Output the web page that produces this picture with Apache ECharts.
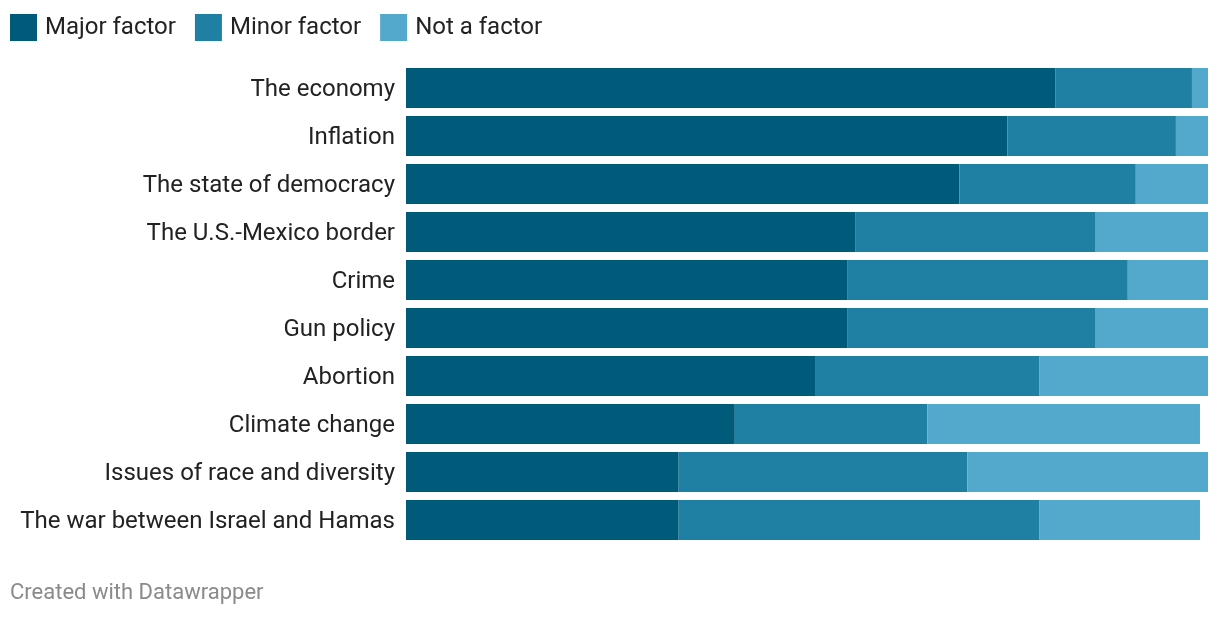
<!DOCTYPE html>
<html><head><meta charset="utf-8">
<script src="https://cdn.jsdelivr.net/npm/echarts@6/dist/echarts.min.js"></script>
<style>html,body{margin:0;padding:0;background:#fff}#c{width:1220px;height:618px}</style>
</head><body><div id="c"></div>
<script>
const categories = ["The economy","Inflation","The state of democracy","The U.S.-Mexico border","Crime","Gun policy","Abortion","Climate change","Issues of race and diversity","The war between Israel and Hamas"];
const majorFactor = [81,75,69,56,55,55,51,41,34,34];
const minorFactor = [17,21,22,30,35,31,28,24,36,45];
const notAFactor = [2,4,9,14,10,14,21,34,30,20];
const seriesNames = ["Major factor","Minor factor","Not a factor"];
const colors = ["#005a7a","#1f80a3","#52a9cc"];
const chart = echarts.init(document.getElementById('c'));
const mk = (name, data, color) => ({
  name, type:'bar', stack:'total', data, barWidth:40,
  itemStyle:{color}, emphasis:{disabled:true}
});
chart.setOption({
  animation:false,
  textStyle:{fontFamily:'Roboto'},
  color:colors,
  legend:{
    left:10, top:14, padding:0, itemWidth:27, itemHeight:27, itemGap:19,
    icon:'rect',
    textStyle:{fontSize:24, color:'#222', fontFamily:'Roboto', padding:[3,0,0,3]},
    data:seriesNames
  },
  grid:{left:406, right:12, top:64, height:480, containLabel:false},
  xAxis:{type:'value', min:0, max:100, show:false},
  yAxis:{type:'category', data:categories, inverse:true,
    axisLine:{show:false}, axisTick:{show:false},
    axisLabel:{fontSize:24, color:'#222', margin:11, fontFamily:'Roboto',
      formatter:'{a|{value}}',
      rich:{a:{fontSize:24, color:'#222', fontFamily:'Roboto', lineHeight:28, padding:[4,0,0,0]}}}},
  graphic:[{type:'text', left:10, top:582, style:{text:'Created with Datawrapper', fontSize:22, fill:'#8a8a8a', fontFamily:'Roboto'}}],
  series:[mk(seriesNames[0], majorFactor, colors[0]), mk(seriesNames[1], minorFactor, colors[1]), mk(seriesNames[2], notAFactor, colors[2])]
});
</script></body></html>
